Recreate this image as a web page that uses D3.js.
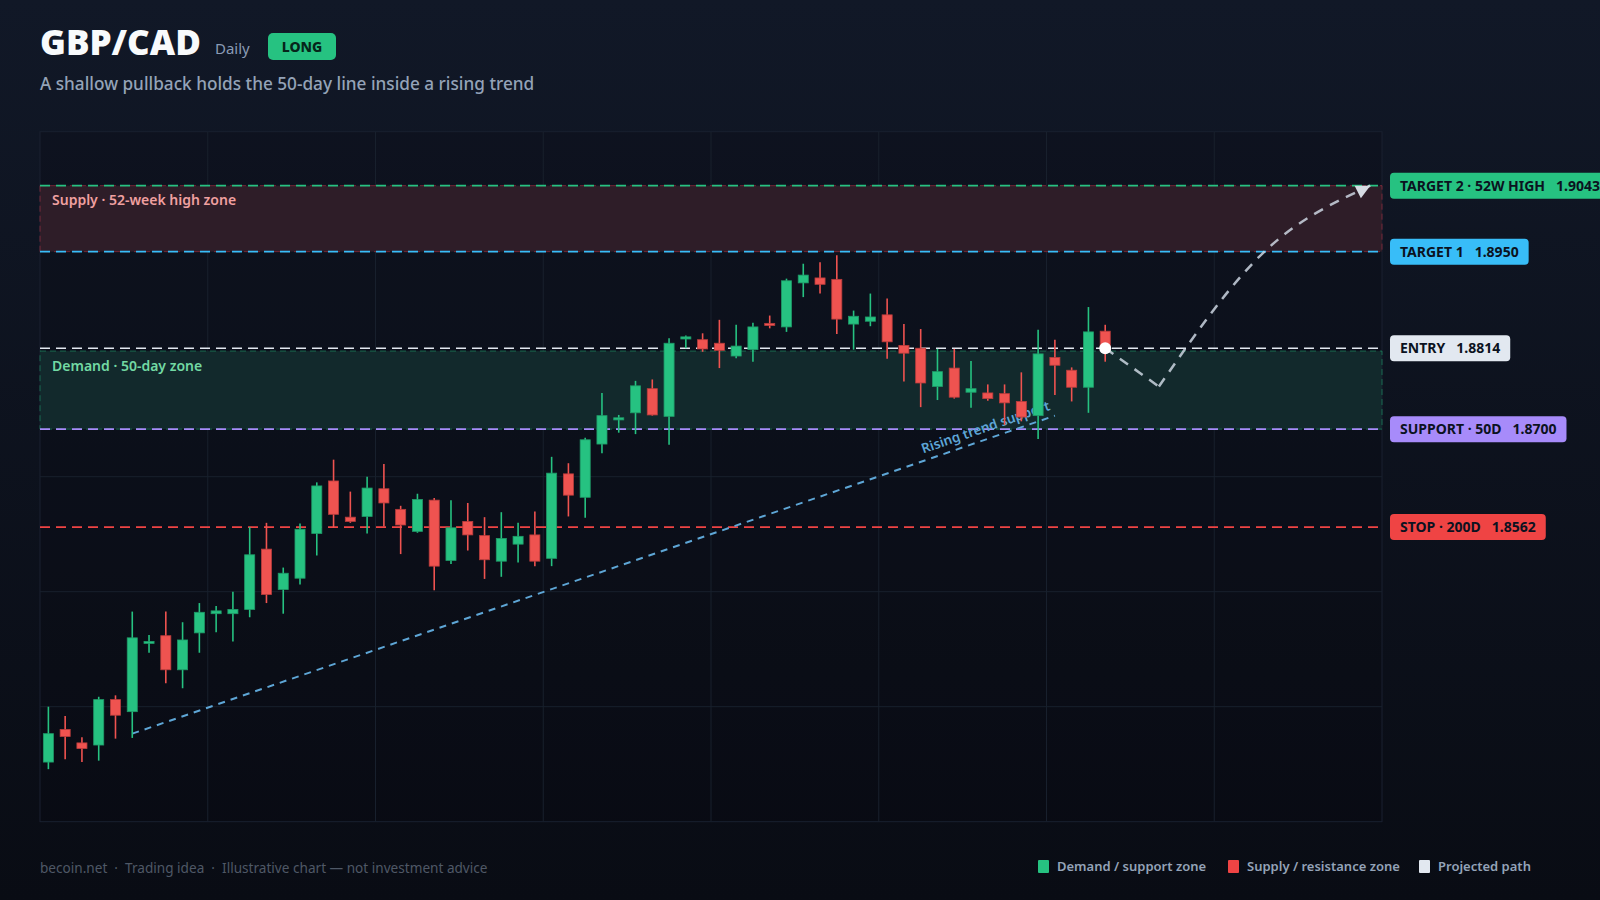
<!DOCTYPE html>
<html>
<head>
<meta charset="utf-8">
<script src="https://cdn.jsdelivr.net/npm/d3@7"></script>
<style>
  html, body { margin: 0; padding: 0; background: #0b0f18; }
  svg { display: block; font-family: "Noto Sans", "Open Sans", sans-serif; }
  .pre { white-space: pre; }
</style>
</head>
<body>
<div class="chart"></div>
<script>
// daily candles
const opens  = [1.8231,1.8277,1.8258,1.8255,1.8319,1.8302,1.8399,1.8409,1.8361,1.8413,1.8440,1.8440,1.8446,1.8531,1.8474,1.8490,
                1.8553,1.8627,1.8576,1.8577,1.8616,1.8587,1.8556,1.8600,1.8515,1.8570,1.8550,1.8514,1.8538,1.8551,1.8518,1.8637,
                1.8604,1.8679,1.8713,1.8723,1.8757,1.8718,1.8827,1.8826,1.8821,1.8803,1.8812,1.8849,1.8844,1.8906,1.8913,1.8911,
                1.8848,1.8852,1.8861,1.8818,1.8814,1.8760,1.8786,1.8752,1.8751,1.8750,1.8739,1.8719,1.8801,1.8783,1.8759,1.8838];
const highs  = [1.8309,1.8296,1.8266,1.8323,1.8325,1.8443,1.8410,1.8443,1.8428,1.8455,1.8451,1.8471,1.8562,1.8568,1.8505,1.8567,
                1.8625,1.8657,1.8612,1.8633,1.8651,1.8592,1.8609,1.8603,1.8600,1.8596,1.8576,1.8583,1.8568,1.8584,1.8661,1.8652,
                1.8688,1.8751,1.8720,1.8768,1.8770,1.8828,1.8832,1.8835,1.8854,1.8847,1.8850,1.8860,1.8912,1.8933,1.8935,1.8945,
                1.8867,1.8891,1.8884,1.8848,1.8841,1.8813,1.8813,1.8796,1.8763,1.8763,1.8780,1.8840,1.8826,1.8787,1.8872,1.8847];
const lows   = [1.8221,1.8235,1.8231,1.8233,1.8264,1.8265,1.8385,1.8342,1.8335,1.8385,1.8414,1.8401,1.8435,1.8455,1.8440,1.8481,
                1.8522,1.8561,1.8568,1.8553,1.8563,1.8524,1.8554,1.8473,1.8510,1.8529,1.8489,1.8492,1.8512,1.8507,1.8507,1.8577,
                1.8575,1.8666,1.8695,1.8693,1.8719,1.8678,1.8814,1.8809,1.8786,1.8800,1.8795,1.8842,1.8837,1.8886,1.8891,1.8834,
                1.8812,1.8845,1.8799,1.8767,1.8731,1.8741,1.8743,1.8730,1.8740,1.8706,1.8711,1.8686,1.8748,1.8739,1.8723,1.8795];
const closes = [1.8271,1.8267,1.8250,1.8319,1.8297,1.8406,1.8401,1.8361,1.8403,1.8442,1.8444,1.8446,1.8523,1.8467,1.8497,1.8559,
                1.8620,1.8580,1.8570,1.8617,1.8596,1.8565,1.8601,1.8507,1.8561,1.8551,1.8516,1.8546,1.8549,1.8514,1.8638,1.8607,
                1.8685,1.8719,1.8716,1.8761,1.8720,1.8821,1.8830,1.8813,1.8811,1.8817,1.8844,1.8846,1.8909,1.8917,1.8904,1.8855,
                1.8859,1.8858,1.8823,1.8807,1.8765,1.8781,1.8745,1.8757,1.8743,1.8737,1.8717,1.8806,1.8790,1.8759,1.8837,1.8814];

// trade levels
const levelNames  = ["TARGET 2 · 52W HIGH", "TARGET 1", "ENTRY", "SUPPORT · 50D", "STOP · 200D"];
const levelValues = [1.9043, 1.8950, 1.8814, 1.8700, 1.8562];
const levelColors = ["#26c281", "#38bdf8", "#e2e8f0", "#a78bfa", "#ef4444"];

// zones [low, high]
const supplyZone = [1.8950, 1.9043];
const demandZone = [1.8700, 1.8810];

// rising trend support (slot, price)
const trendSlots  = [5, 60];
const trendValues = [1.8271, 1.8719];

// projected path (slot, price)
const projSlots  = [63, 66.2, 72.4, 78.8];
const projValues = [1.8814, 1.8760, 1.8948, 1.9043];

const legendNames  = ["Demand / support zone", "Supply / resistance zone", "Projected path"];
const legendColors = ["#26c281", "#ef4444", "#e2e8f0"];

const width = 1600, height = 900;
const plot = { left: 40, right: 1382, top: 131.7, bottom: 821.7 };
const nSlots = 80;
const up = "#26c281", down = "#ef5350";

const svg = d3.select(".chart").append("svg")
    .attr("width", width)
    .attr("height", height);

const defs = svg.append("defs");
const bg = defs.append("linearGradient").attr("id", "bg")
    .attr("x1", 0).attr("y1", 0).attr("x2", 0).attr("y2", 1);
bg.append("stop").attr("offset", "0%").attr("stop-color", "#111827");
bg.append("stop").attr("offset", "100%").attr("stop-color", "#090c14");

svg.append("rect").attr("width", width).attr("height", height).attr("fill", "url(#bg)");

const x = d3.scaleLinear()
    .domain([-0.5, nSlots - 0.5])
    .range([plot.left, plot.right]);

const y = d3.scaleLinear()
    .domain([1.8147, 1.9119])
    .range([plot.bottom, plot.top]);

const step = x(1) - x(0);
const bodyW = step * 0.6;

// header
svg.append("text").attr("x", 40).attr("y", 55)
    .attr("fill", "#f8fafc").attr("font-size", 35).attr("font-weight", 900)
    .text("GBP/CAD");
svg.append("text").attr("x", 215).attr("y", 54)
    .attr("fill", "#8a9bb5").attr("font-size", 15)
    .text("Daily");
svg.append("rect").attr("x", 268).attr("y", 33).attr("width", 68).attr("height", 27)
    .attr("rx", 5).attr("fill", "#26c281");
svg.append("text").attr("x", 302).attr("y", 51.5).attr("text-anchor", "middle")
    .attr("fill", "#06251a").attr("font-size", 14).attr("font-weight", 800)
    .text("LONG");
svg.append("text").attr("x", 40).attr("y", 90)
    .attr("fill", "#94a3b8").attr("font-size", 17.2).attr("font-weight", 500)
    .text("A shallow pullback holds the 50-day line inside a rising trend");

// plot panel + grid
svg.append("rect")
    .attr("x", plot.left).attr("y", plot.top)
    .attr("width", plot.right - plot.left).attr("height", plot.bottom - plot.top)
    .attr("fill", "rgba(6,9,16,0.25)")
    .attr("stroke", "#1a2130");

const grid = svg.append("g").attr("stroke", "#18202d").attr("stroke-width", 1);
grid.selectAll(".v").data(d3.range(1, 8)).enter().append("line")
    .attr("x1", d => plot.left + d * (plot.right - plot.left) / 8)
    .attr("x2", d => plot.left + d * (plot.right - plot.left) / 8)
    .attr("y1", plot.top).attr("y2", plot.bottom);
grid.selectAll(".h").data(d3.range(1, 6)).enter().append("line")
    .attr("y1", d => plot.top + d * (plot.bottom - plot.top) / 6)
    .attr("y2", d => plot.top + d * (plot.bottom - plot.top) / 6)
    .attr("x1", plot.left).attr("x2", plot.right);

// zones
svg.append("rect")
    .attr("x", plot.left).attr("y", y(supplyZone[1]))
    .attr("width", plot.right - plot.left).attr("height", y(supplyZone[0]) - y(supplyZone[1]))
    .attr("fill", "#2e1d28")
    .attr("stroke", "rgba(220,60,80,0.45)").attr("stroke-dasharray", "6 4");
svg.append("text").attr("x", 52).attr("y", y(supplyZone[1]) + 19)
    .attr("fill", "#f0a0a0").attr("font-size", 14).attr("font-weight", 600)
    .text("Supply · 52-week high zone");

svg.append("rect")
    .attr("x", plot.left).attr("y", y(demandZone[1]))
    .attr("width", plot.right - plot.left).attr("height", y(demandZone[0]) - y(demandZone[1]))
    .attr("fill", "#12292c")
    .attr("stroke", "rgba(38,194,129,0.45)").attr("stroke-dasharray", "6 4");
svg.append("text").attr("x", 52).attr("y", y(demandZone[1]) + 20)
    .attr("fill", "#72d9a3").attr("font-size", 14).attr("font-weight", 600)
    .text("Demand · 50-day zone");

// level lines
svg.append("g").selectAll("line")
    .data(levelValues)
    .enter()
    .append("line")
        .attr("x1", plot.left).attr("x2", plot.right - 4)
        .attr("y1", d => y(d)).attr("y2", d => y(d))
        .attr("stroke", (d, i) => levelColors[i])
        .attr("stroke-width", 1.6)
        .attr("stroke-dasharray", "10 6");

// trend line + label (under the candles)
const trendColor = "#5ea6d6";
const tx1 = x(trendSlots[0]), ty1 = y(trendValues[0]);
const tx2 = x(trendSlots[1]), ty2 = y(trendValues[1]);
svg.append("line")
    .attr("x1", tx1).attr("y1", ty1)
    .attr("x2", tx2).attr("y2", ty2)
    .attr("stroke", trendColor).attr("stroke-width", 2)
    .attr("stroke-dasharray", "7 6");

const ang = Math.atan2(ty2 - ty1, tx2 - tx1) * 180 / Math.PI;
const lx = x(59.9), ly = ty1 + (lx - tx1) * (ty2 - ty1) / (tx2 - tx1);
svg.append("text")
    .attr("transform", `translate(${lx},${ly}) rotate(${ang})`)
    .attr("text-anchor", "end").attr("dy", -7)
    .attr("fill", trendColor).attr("font-size", 13.5).attr("font-weight", 600)
    .text("Rising trend support");

// candles
const candles = svg.append("g").selectAll("g")
    .data(d3.range(opens.length))
    .enter()
    .append("g");
candles.append("line")
    .attr("x1", i => x(i)).attr("x2", i => x(i))
    .attr("y1", i => y(highs[i])).attr("y2", i => y(lows[i]))
    .attr("stroke", i => closes[i] >= opens[i] ? up : down)
    .attr("stroke-width", 1.6);
candles.append("rect")
    .attr("x", i => x(i) - bodyW / 2)
    .attr("width", bodyW)
    .attr("y", i => y(Math.max(opens[i], closes[i])))
    .attr("height", i => Math.max(2, Math.abs(y(opens[i]) - y(closes[i]))))
    .attr("fill", i => closes[i] >= opens[i] ? up : down)
    .attr("stroke", i => closes[i] >= opens[i] ? "#1f9a68" : "#b93c3c")
    .attr("stroke-width", 0.8);

// projected path
const projColor = "#cbd5e1";
const projPts = projSlots.map((s, i) => [x(s), y(projValues[i])]);
svg.append("path")
    .attr("d", d3.line()(projPts.slice(0, 2)))
    .attr("fill", "none").attr("stroke", projColor).attr("stroke-opacity", 0.85)
    .attr("stroke-width", 2.5).attr("stroke-dasharray", "10 8");
svg.append("path")
    .attr("d", d3.line().curve(d3.curveMonotoneX)(projPts.slice(1)))
    .attr("fill", "none").attr("stroke", projColor).attr("stroke-opacity", 0.85)
    .attr("stroke-width", 2.5).attr("stroke-dasharray", "10 8");

const tip = projPts[projPts.length - 1];
const headAng = Math.atan2(-0.5, 1);
const hl = 14, hw = 7;
const bx = tip[0] - hl * Math.cos(headAng), by = tip[1] - hl * Math.sin(headAng);
svg.append("path")
    .attr("d", `M${tip[0]},${tip[1]} L${bx + hw * Math.sin(headAng)},${by - hw * Math.cos(headAng)} L${bx - hw * Math.sin(headAng)},${by + hw * Math.cos(headAng)} Z`)
    .attr("fill", "#d6dbe3");

svg.append("circle")
    .attr("cx", x(projSlots[0])).attr("cy", y(projValues[0]))
    .attr("r", 6).attr("fill", "#ffffff");

// right level labels
const tags = svg.append("g").selectAll("g")
    .data(levelValues)
    .enter()
    .append("g")
        .attr("transform", d => `translate(1390, ${y(d)})`);
const tagText = tags.append("text")
    .attr("x", 10).attr("dy", "0.35em")
    .attr("fill", "#0b1220").attr("font-size", 14).attr("font-weight", 700);
tagText.append("tspan").text((d, i) => levelNames[i]);
tagText.append("tspan").attr("dx", 11).text(d => d.toFixed(4));
tags.insert("rect", "text")
    .attr("y", -13).attr("height", 26).attr("rx", 4)
    .attr("width", function() { return this.parentNode.querySelector("text").getBBox().width + 20; })
    .attr("fill", (d, i) => levelColors[i]);

// footer
svg.append("text").attr("class", "pre").attr("x", 40).attr("y", 873)
    .attr("fill", "#4f5866").attr("font-size", 13.6)
    .text("becoin.net  ·  Trading idea  ·  Illustrative chart — not investment advice");

const legendX = [1038, 1228, 1419];
const legend = svg.append("g").selectAll("g")
    .data(legendNames)
    .enter()
    .append("g")
        .attr("transform", (d, i) => `translate(${legendX[i]}, 860)`);
legend.append("rect").attr("width", 11).attr("height", 13).attr("rx", 1)
    .attr("fill", (d, i) => legendColors[i]);
legend.append("text").attr("x", 19).attr("y", 11)
    .attr("fill", "#94a3b8").attr("font-size", 13).attr("font-weight", 600)
    .text(d => d);
</script>
</body>
</html>
